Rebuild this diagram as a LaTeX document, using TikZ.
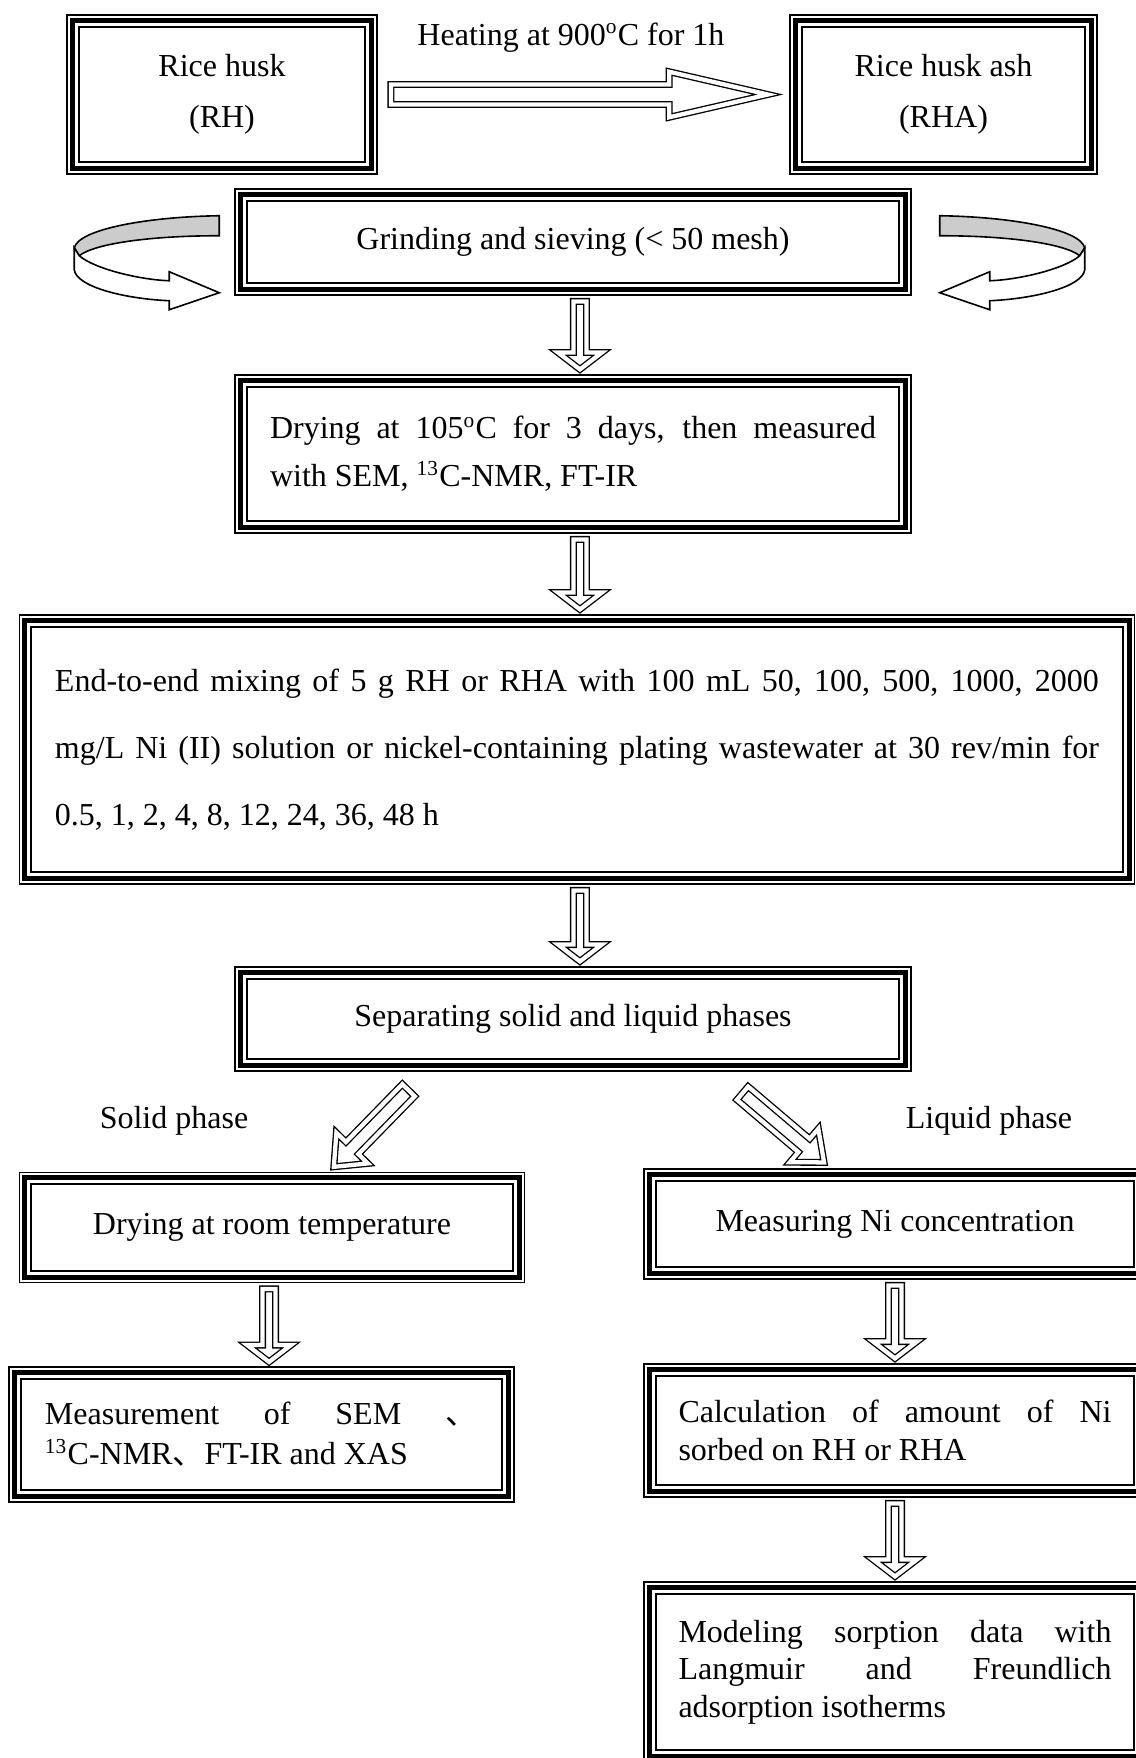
\documentclass[tikz,border=0pt]{standalone}
\usepackage{fontspec}
\setmainfont{Liberation Serif}
\newfontfamily\cjk{Noto Sans CJK SC}
\usetikzlibrary{calc,shapes.arrows}
\newdimen\unitpx \unitpx=0.375pt
\hyphenpenalty=10000 \exhyphenpenalty=10000
\tikzset{
  tribox/.style={draw, line width=0.55pt, rectangle, inner sep=0pt, align=center,
    font=\fontsize{12}{14.4}\selectfont,
    append after command={\pgfextra{\edef\tbn{\tikzlastnode}%
      \draw[line width=1.9pt] ([shift={(2.2pt,2.2pt)}]\tbn.south west) rectangle ([shift={(-2.2pt,-2.2pt)}]\tbn.north east);
      \draw[line width=0.75pt] ([shift={(4.6pt,4.6pt)}]\tbn.south west) rectangle ([shift={(-4.6pt,-4.6pt)}]\tbn.north east);}}},
  parbox/.style={tribox, align=justify},
  barrow/.style={single arrow, draw, double, line width=0.5pt, double distance=1.6pt,
    inner xsep=0pt, sloped, allow upside down, pos=0, anchor=tail},
  downarr/.style={barrow, inner ysep=2.2pt, single arrow head extend=5.8pt, single arrow tip angle=105},
  diagarr/.style={barrow, inner ysep=3pt, single arrow head extend=5pt, single arrow tip angle=80},
  longarr/.style={barrow, inner ysep=3.5pt, single arrow head extend=4.8pt, single arrow tip angle=26},
  lbl/.style={font=\fontsize{12}{14.4}\selectfont, inner sep=0pt},
  curlarrow/.pic={
    \draw[line width=0.6pt, fill=black!20] (0,-77) .. controls (-70,-76) and (-140,-64) .. (-145,-45)
      -- (-140,-37) .. controls (-125,-49) and (-70,-57) .. (0,-57) -- cycle;
    \draw[line width=0.6pt, fill=white] (-140,-37) .. controls (-125,-24) and (-80,-13) .. (-50,-12)
      -- (-50,-21) -- (0,0) -- (-50,17) -- (-50,8)
      .. controls (-95,6) and (-143,-6) .. (-145,-23) -- (-145,-45) -- cycle;}
}

\begin{document}
\begin{tikzpicture}[x=0.375pt, y=-0.375pt]
  %%%%% START %%%%%
  \useasboundingbox (0,0) rectangle (1136,1758);
  \clip (0,0) rectangle (1136,1758);

  \node[tribox, minimum width=310\unitpx, minimum height=159\unitpx, font=\fontsize{12}{19}\selectfont] (rh) at (222,94.5) {Rice husk\\(RH)};
  \node[tribox, minimum width=307\unitpx, minimum height=159\unitpx, font=\fontsize{12}{19}\selectfont] (rha) at (943.5,94.5) {Rice husk ash\\(RHA)};
  \node[lbl] (heat) at (571,37.5) {Heating at 900\textsuperscript{o}C for 1h};

  \node[tribox, minimum width=676\unitpx, minimum height=106\unitpx] (grind) at (573,242) {Grinding and sieving (< 50 mesh)};
  \node[parbox, minimum width=676\unitpx, minimum height=158\unitpx, text width=606\unitpx, font=\fontsize{12}{18}\selectfont] (dry) at (573,454)
    {Drying at 105\textsuperscript{o}C for 3 days, then measured\linebreak with SEM, \textsuperscript{13}C-NMR, FT-IR};
  \node[parbox, minimum width=1115.5\unitpx, minimum height=269\unitpx, text width=1044\unitpx, font=\fontsize{12}{25.2}\selectfont] (mix) at (577,749.5)
    {End-to-end mixing of 5 g RH or RHA with 100 mL 50, 100, 500, 1000, 2000\linebreak mg/L Ni (II) solution or nickel-containing plating wastewater at 30 rev/min for\linebreak 0.5, 1, 2, 4, 8, 12, 24, 36, 48 h};
  \node[tribox, minimum width=676\unitpx, minimum height=104\unitpx] (sep) at (573,1019) {Separating solid and liquid phases};

  \node[lbl] (solid) at (174,1121) {Solid phase};
  \node[lbl] (liquid) at (989,1121) {Liquid phase};

  \node[tribox, minimum width=505\unitpx, minimum height=110\unitpx] (dryroom) at (272,1227.5) {Drying at room temperature};
  \node[tribox, minimum width=502\unitpx, minimum height=110\unitpx] (meas) at (895,1224) {Measuring Ni concentration};
  \node[parbox, minimum width=505\unitpx, minimum height=135\unitpx, text width=433\unitpx, font=\fontsize{12}{15}\selectfont] (sem) at (261.5,1434.5)
    {Measurement of SEM {\cjk 、}\linebreak \textsuperscript{13}C-NMR{\cjk 、}FT-IR and XAS};
  \node[parbox, minimum width=502\unitpx, minimum height=133\unitpx, text width=433\unitpx, font=\fontsize{12}{14.3}\selectfont] (calc) at (895,1430.5)
    {Calculation of amount of Ni\linebreak sorbed on RH or RHA};
  \node[parbox, minimum width=502\unitpx, minimum height=180\unitpx, text width=433\unitpx, font=\fontsize{12}{14.1}\selectfont] (model) at (895,1672)
    {Modeling sorption data with\linebreak Langmuir and Freundlich\linebreak adsorption isotherms\par\vspace*{12\unitpx}};

  \pic at ($(grind.south west)+(-15,-3)$) {curlarrow};
  \pic[xscale=-1] at ($(grind.south east)+(28,-3)$) {curlarrow};

  \path ([xshift=12.5\unitpx]rh.east) -- node[longarr, minimum height=377\unitpx] {} (rha.west);

  \coordinate (g1) at ([xshift=2.6pt]grind.south);
  \path ([yshift=-5\unitpx]g1) -- node[downarr, minimum height=68\unitpx] {} (g1 |- dry.north);
  \coordinate (d1) at ([xshift=2.6pt]dry.south);
  \path ([yshift=-5\unitpx]d1) -- node[downarr, minimum height=70\unitpx] {} (d1 |- mix.north);
  \coordinate (m1) at ([xshift=2.6pt]mix.south -| grind.south);
  \path ([yshift=-5\unitpx]m1) -- node[downarr, minimum height=71\unitpx] {} (m1 |- sep.north);

  \coordinate (st) at ($(sep.south)+(-164,18)$);
  \coordinate (sp) at ($(dryroom.north)+(57,0)$);
  \path (st) -- node[diagarr, minimum height=107\unitpx] {} (sp);
  \coordinate (lt) at ($(sep.south)+(169,21)$);
  \coordinate (lp) at ($(meas.north)+(-64,0)$);
  \path (lt) -- node[diagarr, minimum height=107\unitpx] {} (lp);

  \coordinate (r1) at ([xshift=-1.1pt]dryroom.south);
  \path ([yshift=-5\unitpx]r1) -- node[downarr, minimum height=73\unitpx] {} (r1 |- sem.north);
  \path ([yshift=-5\unitpx]meas.south) -- node[downarr, minimum height=73\unitpx] {} (calc.north);
  \path ([yshift=-5\unitpx]calc.south) -- node[downarr, minimum height=73\unitpx] {} (model.north);
  %%%%% END %%%%%
\end{tikzpicture}
\end{document}
